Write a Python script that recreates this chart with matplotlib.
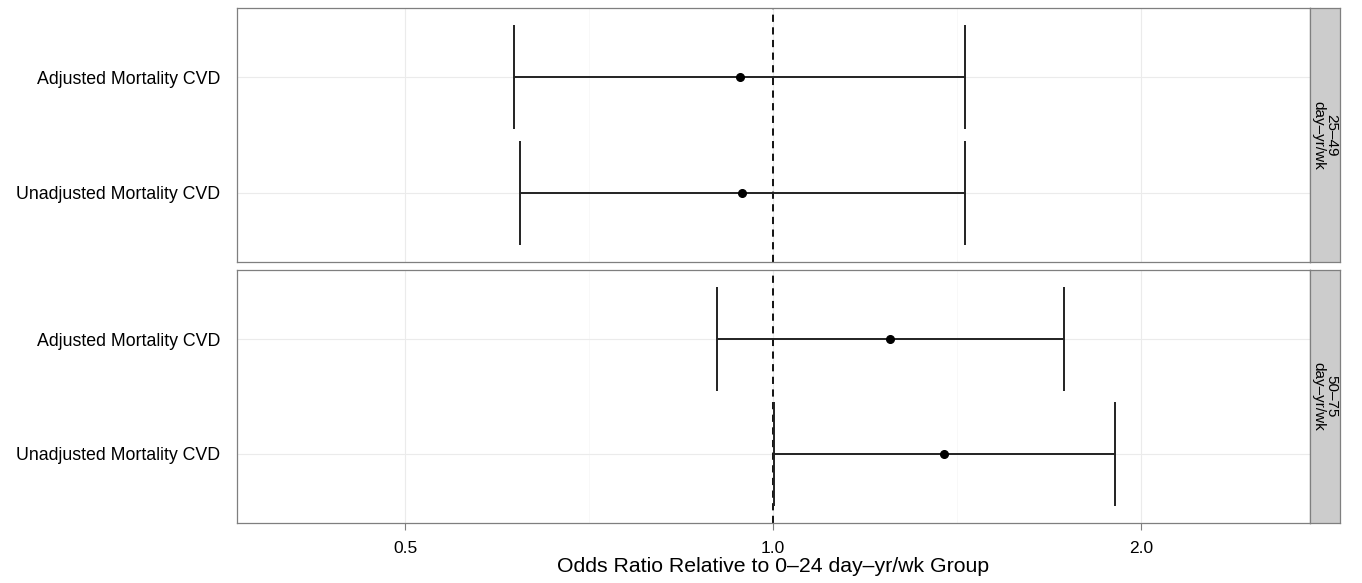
import matplotlib.pyplot as plt
import numpy as np

# data (odds ratios, log scale)
panels = ["25\u201349\nday\u2013yr/wk", "50\u201375\nday\u2013yr/wk"]
rows = ["Unadjusted Mortality CVD", "Adjusted Mortality CVD"]
estimate = [[0.943, 0.940], [1.380, 1.246]]
lower = [[0.621, 0.614], [1.002, 0.900]]
upper = [[1.436, 1.436], [1.904, 1.730]]
xticks = [0.5, 1.0, 2.0]
xticklabels = ["0.5", "1.0", "2.0"]

W, H = 1362, 583
fig = plt.figure(figsize=(W / 100, H / 100), dpi=100)
plt.rcParams['font.family'] = ['Liberation Sans', 'DejaVu Sans']

def box(x0, y0, x1, y1):
    return [x0 / W, (H - y1) / H, (x1 - x0) / W, (y1 - y0) / H]

panel_px = [(8, 262), (270, 523)]
border = "#7f7f7f"

for i, (y0, y1) in enumerate(panel_px):
    ax = fig.add_axes(box(237, y0, 1310, y1))
    ax.set_xscale('log')
    ax.set_xlim(0.364, 2.75)
    ax.set_ylim(0.4, 2.6)
    ypos = np.arange(1, len(rows) + 1)

    # grid
    for v in xticks:
        ax.axvline(v, color="#ebebeb", lw=0.8, zorder=0)
    for v in [0.7071, 1.4142]:
        ax.axvline(v, color="#f7f7f7", lw=0.6, zorder=0)
    for y in ypos:
        ax.axhline(y, color="#ebebeb", lw=0.8, zorder=0)

    ax.axvline(1.0, color="black", lw=1.3, linestyle=(0, (4, 3)), zorder=1)

    ax.hlines(ypos, lower[i], upper[i], color="#222222", lw=1.4, zorder=2)
    ax.vlines(lower[i], ypos - 0.45, ypos + 0.45, color="#222222", lw=1.4, zorder=2)
    ax.vlines(upper[i], ypos - 0.45, ypos + 0.45, color="#222222", lw=1.4, zorder=2)
    ax.plot(estimate[i], ypos, 'o', color="black", ms=5.5, zorder=3)

    ax.set_yticks(ypos)
    ax.set_yticklabels(rows, fontsize=12.8)
    ax.tick_params(axis='y', length=0, pad=12)
    ax.minorticks_off()
    ax.set_xticks(xticks)
    if i == len(panel_px) - 1:
        ax.set_xticklabels(xticklabels, fontsize=12.5)
        ax.tick_params(axis='x', length=5, color="#7f7f7f", pad=8)
        ax.set_xlabel("Odds Ratio Relative to 0\u201324 day\u2013yr/wk Group",
                      fontsize=15.3, labelpad=1)
    else:
        ax.set_xticklabels([])
        ax.tick_params(axis='x', length=0)
    for s in ax.spines.values():
        s.set_color(border)
        s.set_linewidth(0.9)

    # facet strip on the right
    sx = fig.add_axes(box(1310, y0, 1340, y1))
    sx.set_facecolor("#cccccc")
    sx.set_xticks([])
    sx.set_yticks([])
    for s in sx.spines.values():
        s.set_color(border)
        s.set_linewidth(0.9)
    sx.text(0.5, 0.5, panels[i], rotation=-90, ha='center', va='center',
            fontsize=11, linespacing=0.95, transform=sx.transAxes)

fig.savefig("out.png", dpi=100, facecolor="white")
